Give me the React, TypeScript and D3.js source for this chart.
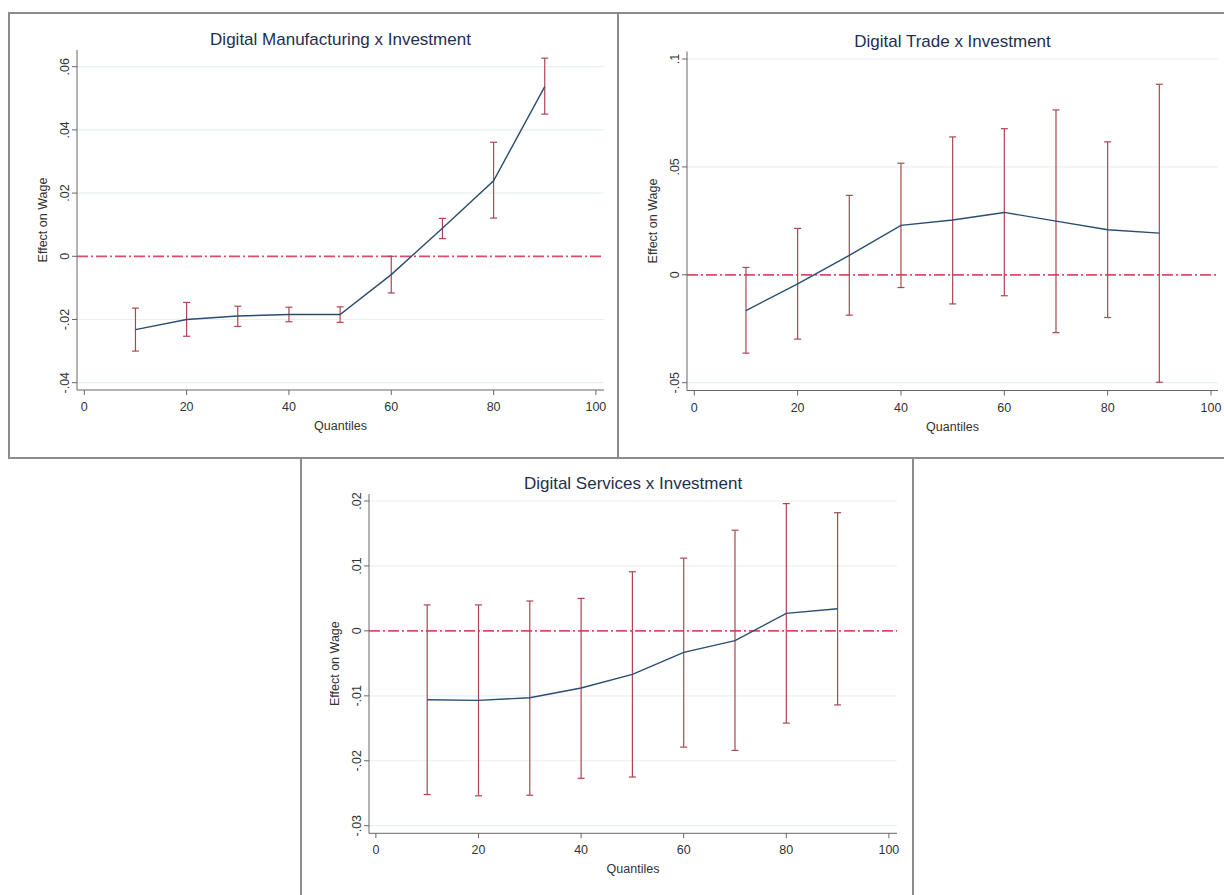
import * as d3 from 'd3';

// quantile points shared by all three panels
const quantiles = [10, 20, 30, 40, 50, 60, 70, 80, 90];
const xTicks = [0, 20, 40, 60, 80, 100];

// Digital Manufacturing x Investment
const mfgEstimate = [-0.0232, -0.02, -0.0189, -0.0184, -0.0184, -0.0058, 0.0089, 0.0239, 0.0537];
const mfgLower = [-0.03, -0.0253, -0.0222, -0.0207, -0.0209, -0.0116, 0.0056, 0.0121, 0.045];
const mfgUpper = [-0.0164, -0.0146, -0.0158, -0.0161, -0.016, 0.0, 0.012, 0.0361, 0.0627];
const mfgYTicks = [-0.04, -0.02, 0, 0.02, 0.04, 0.06];

// Digital Trade x Investment
const tradeEstimate = [-0.0166, -0.0042, 0.009, 0.0229, 0.0254, 0.0289, 0.0249, 0.0209, 0.0193];
const tradeLower = [-0.0363, -0.0298, -0.0187, -0.0059, -0.0135, -0.0097, -0.0268, -0.0198, -0.0498];
const tradeUpper = [0.0034, 0.0215, 0.0368, 0.0517, 0.0639, 0.0677, 0.0764, 0.0616, 0.0883];
const tradeYTicks = [-0.05, 0, 0.05, 0.1];

// Digital Services x Investment
const servEstimate = [-0.0106, -0.0107, -0.0103, -0.0088, -0.0067, -0.0033, -0.0015, 0.0027, 0.0034];
const servLower = [-0.0252, -0.0254, -0.0253, -0.0227, -0.0225, -0.0179, -0.0184, -0.0142, -0.0114];
const servUpper = [0.004, 0.004, 0.0046, 0.005, 0.0091, 0.0112, 0.0155, 0.0196, 0.0182];
const servYTicks = [-0.03, -0.02, -0.01, 0, 0.01, 0.02];

const FONT = "Arial, 'Liberation Sans', sans-serif";
const LINE_COLOR = '#2a4d72';
const BAR_COLOR = '#ad4653';
const ZERO_COLOR = '#dc4a6c';
const GRID_COLOR = '#e8f0f1';
const AXIS_COLOR = '#666';
const TEXT_COLOR = '#333';

// Stata style: drop the leading zero
const fmt = (v: number) => {
  if (v === 0) return '0';
  const s = String(+v.toFixed(4));
  return s.replace('0.', '.');
};

type Layout = {
  frame: [number, number, number, number];
  left: number;
  top: number;
  right: number;
  bottom: number;
  xRange: [number, number];
  yRange: [number, number];
};

type PanelProps = {
  title: string;
  estimate: number[];
  lower: number[];
  upper: number[];
  yTicks: number[];
  layout: Layout;
};

function Panel({ title, estimate, lower, upper, yTicks, layout }: PanelProps) {
  const { frame, left, top, right, bottom, xRange, yRange } = layout;
  const x = d3.scaleLinear().domain([0, 100]).range(xRange);
  const y = d3
    .scaleLinear()
    .domain([yTicks[0], yTicks[yTicks.length - 1]])
    .range(yRange);

  const points = quantiles.map((q, i) => ({ q, est: estimate[i], lo: lower[i], hi: upper[i] }));
  const line = d3
    .line<{ q: number; est: number }>()
    .x((d) => x(d.q))
    .y((d) => y(d.est));

  const cap = 3.5;
  const midX = (left + right) / 2;
  const midY = (top + bottom) / 2;

  return (
    <g fontFamily={FONT}>
      <rect x={frame[0]} y={frame[1]} width={frame[2]} height={frame[3]} fill="none" stroke="#8c8c8c" strokeWidth={2} />

      {yTicks.map((t) => (
        <g key={t}>
          {t !== 0 && <line x1={left} x2={right} y1={y(t)} y2={y(t)} stroke={GRID_COLOR} strokeWidth={1.2} />}
          <line x1={left - 5} x2={left} y1={y(t)} y2={y(t)} stroke={AXIS_COLOR} />
          <text
            transform={`translate(${left - 8},${y(t)}) rotate(-90)`}
            textAnchor="middle"
            fontSize={12.5}
            fill={TEXT_COLOR}
          >
            {fmt(t)}
          </text>
        </g>
      ))}

      <line x1={left} x2={right} y1={y(0)} y2={y(0)} stroke={ZERO_COLOR} strokeWidth={1.8} strokeDasharray="11 3 2 3" />

      {points.map((p) => (
        <g key={p.q} stroke={BAR_COLOR} strokeWidth={1.2}>
          <line x1={x(p.q)} x2={x(p.q)} y1={y(p.lo)} y2={y(p.hi)} />
          <line x1={x(p.q) - cap} x2={x(p.q) + cap} y1={y(p.lo)} y2={y(p.lo)} />
          <line x1={x(p.q) - cap} x2={x(p.q) + cap} y1={y(p.hi)} y2={y(p.hi)} />
        </g>
      ))}

      <path d={line(points) ?? ''} fill="none" stroke={LINE_COLOR} strokeWidth={1.4} />

      <line x1={left} x2={left} y1={top} y2={bottom} stroke={AXIS_COLOR} />
      <line x1={left} x2={right} y1={bottom} y2={bottom} stroke={AXIS_COLOR} />
      {xTicks.map((t) => (
        <g key={t}>
          <line x1={x(t)} x2={x(t)} y1={bottom} y2={bottom + 5} stroke={AXIS_COLOR} />
          <text x={x(t)} y={bottom + 21} textAnchor="middle" fontSize={12.5} fill={TEXT_COLOR}>
            {t}
          </text>
        </g>
      ))}

      <text x={midX} y={bottom + 40} textAnchor="middle" fontSize={12.5} fill={TEXT_COLOR}>
        Quantiles
      </text>
      <text
        transform={`translate(${left - 30},${midY}) rotate(-90)`}
        textAnchor="middle"
        fontSize={12.5}
        fill={TEXT_COLOR}
      >
        Effect on Wage
      </text>
      <text x={midX} y={top - 5} textAnchor="middle" fontSize={17} fill="#1e2f4f">
        {title}
      </text>
    </g>
  );
}

const mfgLayout: Layout = {
  frame: [9, 13, 609, 445],
  left: 77,
  top: 50,
  right: 604,
  bottom: 390,
  xRange: [84.3, 595.9],
  yRange: [382.7, 66.7],
};

const tradeLayout: Layout = {
  frame: [618, 13, 612, 445],
  left: 687,
  top: 51.5,
  right: 1218,
  bottom: 390.5,
  xRange: [694.3, 1211],
  yRange: [382.7, 59],
};

const servLayout: Layout = {
  frame: [301, 458, 612, 445],
  left: 369,
  top: 494,
  right: 897,
  bottom: 833.3,
  xRange: [375.9, 888.9],
  yRange: [825.7, 501],
};

export default function App() {
  return (
    <svg
      width={1224}
      height={895}
      viewBox="0 0 1224 895"
      style={{ position: 'absolute', left: 0, top: 0, background: '#fff' }}
    >
      <Panel
        title="Digital Manufacturing x Investment"
        estimate={mfgEstimate}
        lower={mfgLower}
        upper={mfgUpper}
        yTicks={mfgYTicks}
        layout={mfgLayout}
      />
      <Panel
        title="Digital Trade x Investment"
        estimate={tradeEstimate}
        lower={tradeLower}
        upper={tradeUpper}
        yTicks={tradeYTicks}
        layout={tradeLayout}
      />
      <Panel
        title="Digital Services x Investment"
        estimate={servEstimate}
        lower={servLower}
        upper={servUpper}
        yTicks={servYTicks}
        layout={servLayout}
      />
    </svg>
  );
}
